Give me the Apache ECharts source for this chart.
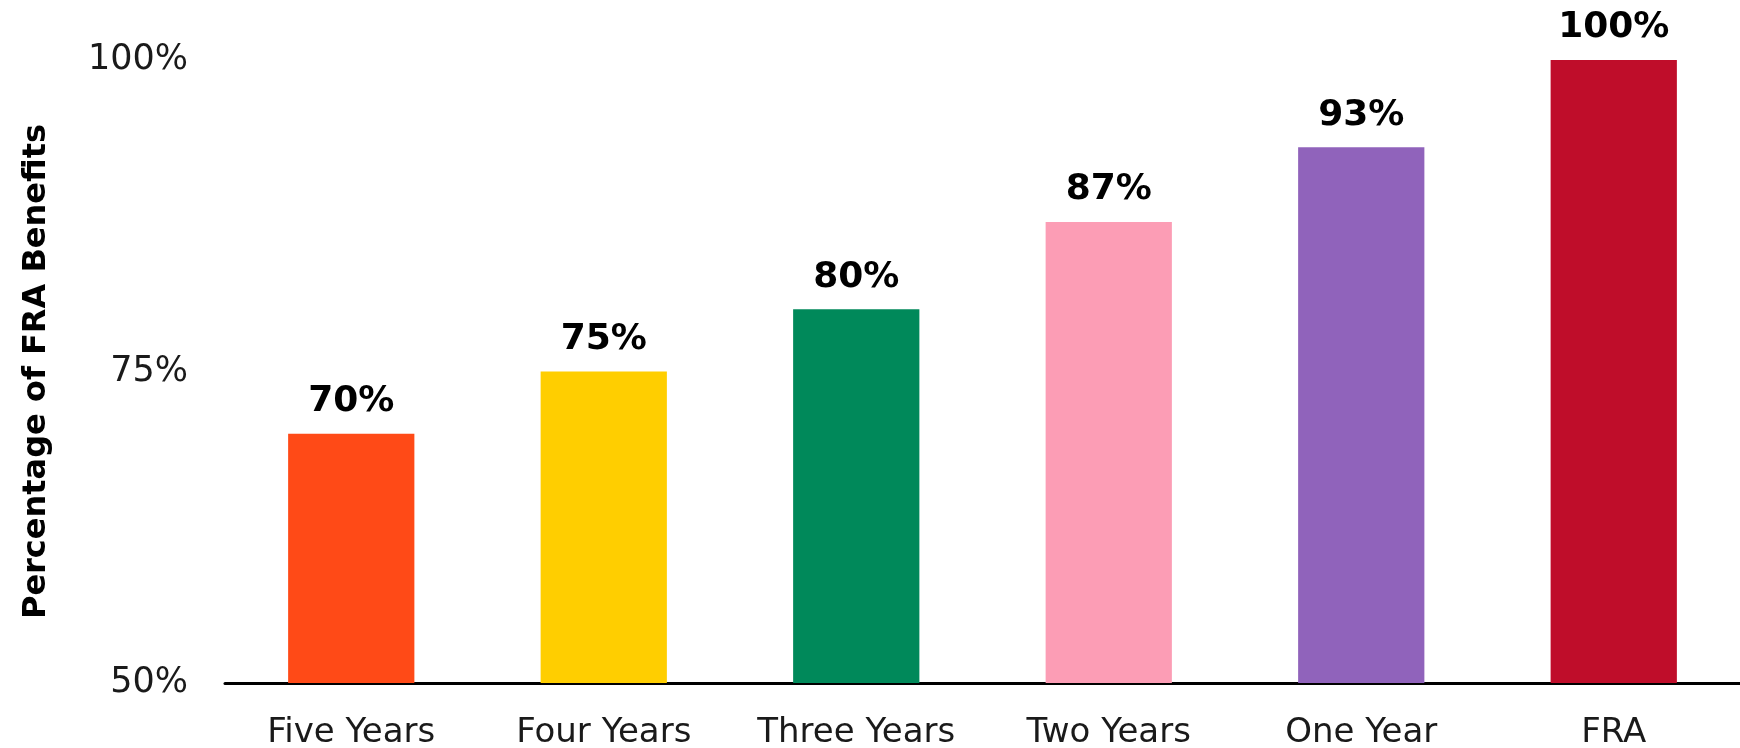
<!DOCTYPE html>
<html>
<head>
<meta charset="utf-8">
<script src="https://cdn.jsdelivr.net/npm/echarts@6/dist/echarts.min.js"></script>
<style>
  html, body { margin: 0; padding: 0; background: #fff; }
  #main { width: 1740px; height: 748px; }
</style>
</head>
<body>
<div id="main"></div>
<script>
// claiming age categories and share of full benefit
var categories = ['Five Years', 'Four Years', 'Three Years', 'Two Years', 'One Year', 'FRA'];
var values = [70, 75, 80, 87, 93, 100];
var barColors = ['#ff4a17', '#ffce00', '#00895a', '#fc9db5', '#9063bb', '#bf0d2a'];

var myChart = echarts.init(document.getElementById('main'));

var option = {
	animation: false,
	grid: {
		left: 225,
		right: 0,
		top: 60,
		bottom: 65,
		outerBoundsMode: 'none'
	},
	xAxis: {
		type: 'category',
		data: categories,
		axisTick: { show: false },
		axisLine: {
			lineStyle: { color: '#000', width: 3 }
		},
		axisLabel: {
			interval: 0,
			hideOverlap: false,
			margin: 33,
			color: '#1a1a1a',
			fontSize: 34,
			fontFamily: 'DejaVu Sans'
		}
	},
	yAxis: {
		type: 'value',
		min: 50,
		max: 100,
		interval: 25,
		name: 'Percentage of FRA Benefits',
		nameLocation: 'middle',
		nameGap: 172,
		nameTextStyle: {
			fontSize: 32,
			fontWeight: 'bold',
			color: '#000',
			fontFamily: 'DejaVu Sans'
		},
		splitLine: { show: false },
		axisLine: { show: false },
		axisTick: { show: false },
		axisLabel: {
			margin: 37,
			color: '#1a1a1a',
			fontSize: 35,
			fontFamily: 'DejaVu Sans',
			formatter: '{value}%'
		}
	},
	series: [{
		type: 'bar',
		barWidth: '50%',
		data: values.map(function (v, i) {
			return { value: v, itemStyle: { color: barColors[i] } };
		}),
		label: {
			show: true,
			position: 'top',
			distance: 14,
			color: '#000',
			fontSize: 36,
			fontWeight: 'bold',
			fontFamily: 'DejaVu Sans',
			formatter: '{c}%'
		}
	}]
};

myChart.setOption(option);
</script>
</body>
</html>
